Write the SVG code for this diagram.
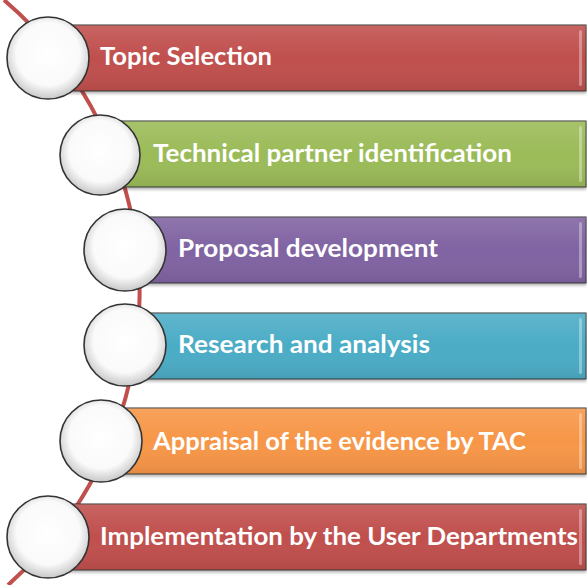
<svg xmlns="http://www.w3.org/2000/svg" width="587" height="585" viewBox="0 0 587 585">
<style>
.bar{stroke:#3a3a3a;stroke-width:1}
.hl{fill:#ffffff;opacity:0.35}
.lbl{font-family:Lato,"Liberation Sans",sans-serif;font-weight:bold;font-size:24px;fill:#ffffff}
.node circle{fill:url(#cg);stroke:#333333;stroke-width:1.6}
</style>
<defs>
<radialGradient id="cg" cx="0.5" cy="0.45" r="0.55">
<stop offset="0" stop-color="#ffffff"/>
<stop offset="0.7" stop-color="#fafafa"/>
<stop offset="1" stop-color="#c8c8c8"/>
</radialGradient>
<linearGradient id="sheen" x1="0" y1="0" x2="0" y2="1">
<stop offset="0" stop-color="#ffffff" stop-opacity="0.12"/>
<stop offset="0.5" stop-color="#ffffff" stop-opacity="0"/>
<stop offset="1" stop-color="#000000" stop-opacity="0.08"/>
</linearGradient>
<filter id="sh" x="-5%" y="-10%" width="110%" height="130%">
<feDropShadow dx="0" dy="2" stdDeviation="1.5" flood-color="#000" flood-opacity="0.3"/>
</filter>
</defs>
<g id="connectors">
<path d="M 4 0 A 387 387 0 0 1 8 585" fill="none" stroke="#c0504d" stroke-width="4"/>
</g>
<g id="n1" class="node">
<rect class="bar" x="48" y="25" width="538" height="66" fill="#c0504d" filter="url(#sh)"/>
<rect x="48" y="25" width="538" height="66" fill="url(#sheen)"/>
<rect class="hl" x="579" y="30" width="3" height="56" rx="1.5"/>
<circle cx="48" cy="58" r="41"/>
<text class="lbl" x="100" y="65" textLength="172" lengthAdjust="spacingAndGlyphs">Topic Selection</text>
</g>
<g id="n2" class="node">
<rect class="bar" x="100" y="121" width="486" height="66" fill="#9bbb59" filter="url(#sh)"/>
<rect x="100" y="121" width="486" height="66" fill="url(#sheen)"/>
<rect class="hl" x="579" y="126" width="3" height="56" rx="1.5"/>
<circle cx="100" cy="155" r="40"/>
<text class="lbl" x="153" y="162" textLength="359" lengthAdjust="spacingAndGlyphs">Technical partner identification</text>
</g>
<g id="n3" class="node">
<rect class="bar" x="125" y="217" width="461" height="66" fill="#8064a2" filter="url(#sh)"/>
<rect x="125" y="217" width="461" height="66" fill="url(#sheen)"/>
<rect class="hl" x="579" y="222" width="3" height="56" rx="1.5"/>
<circle cx="125" cy="250" r="41"/>
<text class="lbl" x="178" y="257" textLength="260" lengthAdjust="spacingAndGlyphs">Proposal development</text>
</g>
<g id="n4" class="node">
<rect class="bar" x="125" y="313" width="461" height="66" fill="#4bacc6" filter="url(#sh)"/>
<rect x="125" y="313" width="461" height="66" fill="url(#sheen)"/>
<rect class="hl" x="579" y="318" width="3" height="56" rx="1.5"/>
<circle cx="125" cy="345" r="41"/>
<text class="lbl" x="178" y="353" textLength="252" lengthAdjust="spacingAndGlyphs">Research and analysis</text>
</g>
<g id="n5" class="node">
<rect class="bar" x="101" y="408" width="485" height="66" fill="#f79646" filter="url(#sh)"/>
<rect x="101" y="408" width="485" height="66" fill="url(#sheen)"/>
<rect class="hl" x="579" y="413" width="3" height="56" rx="1.5"/>
<circle cx="101" cy="441" r="41"/>
<text class="lbl" x="153" y="450" textLength="373" lengthAdjust="spacingAndGlyphs">Appraisal of the evidence by TAC</text>
</g>
<g id="n6" class="node">
<rect class="bar" x="48" y="504" width="538" height="66" fill="#c0504d" filter="url(#sh)"/>
<rect x="48" y="504" width="538" height="66" fill="url(#sheen)"/>
<rect class="hl" x="579" y="509" width="3" height="56" rx="1.5"/>
<circle cx="48" cy="537" r="41"/>
<text class="lbl" x="100" y="545" textLength="478" lengthAdjust="spacingAndGlyphs">Implementation by the User Departments</text>
</g>
</svg>
